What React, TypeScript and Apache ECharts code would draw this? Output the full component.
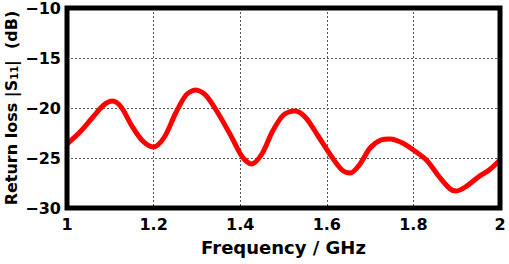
import React, { useEffect, useRef } from "react";
import * as echarts from "echarts";

const freq = [1.0, 1.03, 1.06, 1.085, 1.105, 1.125, 1.15, 1.175, 1.2, 1.225, 1.25, 1.275, 1.297, 1.32, 1.35, 1.38, 1.405, 1.426, 1.45, 1.475, 1.5, 1.526, 1.55, 1.58, 1.61, 1.635, 1.654, 1.675, 1.7, 1.725, 1.746, 1.775, 1.8, 1.83, 1.86, 1.885, 1.899, 1.92, 1.95, 1.975, 2.0];
const returnLoss = [-23.6, -22.4, -20.9, -19.7, -19.3, -19.9, -21.8, -23.3, -23.9, -22.9, -20.6, -18.7, -18.2, -18.7, -20.6, -22.9, -24.9, -25.6, -24.6, -22.3, -20.7, -20.3, -20.9, -22.8, -24.8, -26.2, -26.5, -25.7, -24.0, -23.2, -23.1, -23.5, -24.2, -25.2, -26.9, -28.1, -28.3, -27.9, -26.9, -26.2, -25.2];
const xTicks = { min: 1, max: 2, step: 0.2 };
const yTicks = { min: -30, max: -10, step: 5 };

const FONT = "DejaVu Sans";

export default function App() {
  const ref = useRef<HTMLDivElement>(null);
  useEffect(() => {
    if (!ref.current) return;
    const chart = echarts.init(ref.current, null, { renderer: "svg" });
    chart.setOption({
      animation: false,
      backgroundColor: "#fff",
      grid: {
        left: 67,
        right: 9,
        top: 8,
        bottom: 56,
        show: true,
        borderColor: "#000",
        borderWidth: 5,
        z: 3,
        containLabel: false,
        outerBoundsMode: "none",
      },
      xAxis: {
        type: "value",
        min: xTicks.min,
        max: xTicks.max,
        interval: xTicks.step,
        name: "Frequency / GHz",
        nameLocation: "middle",
        nameGap: 30,
        nameMoveOverlap: false,
        nameTextStyle: { fontFamily: FONT, fontWeight: "bold", fontSize: 18, color: "#000" },
        axisLine: { show: false },
        axisTick: { show: false },
        axisLabel: {
          margin: 8,
          fontFamily: FONT,
          fontWeight: "bold",
          fontSize: 16,
          color: "#000",
          formatter: (v: number) => String(Math.round(v * 10) / 10),
        },
        splitLine: { show: true, lineStyle: { color: "#555", width: 1, type: [2, 2] } },
      },
      yAxis: {
        type: "value",
        min: yTicks.min,
        max: yTicks.max,
        interval: yTicks.step,
        name: "Return loss |S{sub|11}|  (dB)",
        nameLocation: "middle",
        nameRotate: 90,
        nameGap: 48,
        nameMoveOverlap: false,
        nameTextStyle: {
          fontFamily: FONT,
          fontWeight: "bold",
          fontSize: 16,
          color: "#000",
          rich: {
            sub: { fontFamily: FONT, fontWeight: "bold", fontSize: 10, color: "#000", verticalAlign: "bottom", lineHeight: 13 },
          },
        },
        axisLine: { show: false },
        axisTick: { show: false },
        axisLabel: {
          margin: 6,
          fontFamily: FONT,
          fontWeight: "bold",
          fontSize: 16,
          color: "#000",
          formatter: (v: number) => String(v).replace("-", "\u2212"),
        },
        splitLine: { show: true, lineStyle: { color: "#555", width: 1, type: [2, 2] } },
      },
      series: [
        {
          type: "line",
          data: freq.map((f, i) => [f, returnLoss[i]]),
          smooth: 0.3,
          showSymbol: false,
          lineStyle: { color: "#ff0000", width: 5 },
          z: 2,
        },
      ],
    });
    return () => chart.dispose();
  }, []);
  return <div ref={ref} style={{ width: 509, height: 264, position: "absolute", left: 0, top: 0 }} />;
}
